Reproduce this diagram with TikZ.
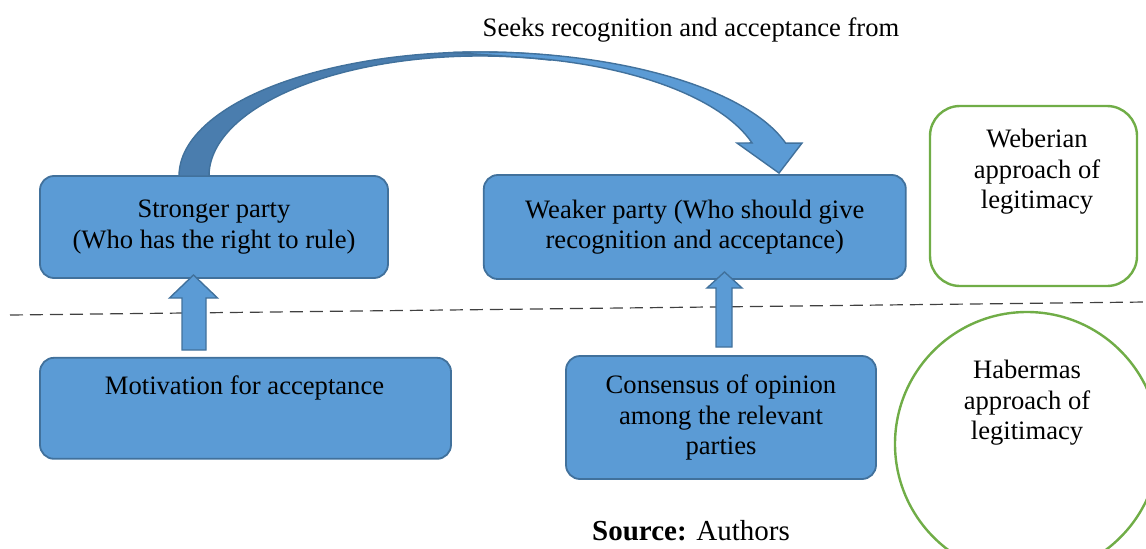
\documentclass[tikz,border=0pt]{standalone}
\usepackage{fontspec}
\setmainfont{Liberation Serif}
\usetikzlibrary{positioning,calc}
\definecolor{boxblue}{HTML}{5B9BD5}
\definecolor{edgeblue}{HTML}{41719C}
\definecolor{bandblue}{HTML}{4A7DAE}
\definecolor{leafgreen}{HTML}{70AD47}
\newcommand{\bodyfont}{\fontsize{13.3}{15.25}\selectfont}
\tikzset{
    block/.style={
        rectangle,
        draw=edgeblue,
        fill=boxblue,
        line width=0.9pt,
        rounded corners=7pt,
        inner sep=0pt,
        align=center,
        font=\bodyfont
    },
    approach/.style={draw=leafgreen, line width=1.2pt, fill=white, inner sep=0pt},
    txt/.style={align=center, font=\bodyfont, inner sep=0pt},
    fatarrow/.style={draw=edgeblue, fill=boxblue, line width=0.7pt, line join=miter},
    backband/.style={draw=edgeblue, fill=bandblue, line width=0.7pt}
}

\begin{document}
\begin{tikzpicture}[x=0.5pt, y=0.5pt]
    \useasboundingbox (0,0) rectangle (1146,548);
    \clip (0,0) rectangle (1146,548);

    % upper row
    \node (strong) [block, minimum width=174pt, minimum height=51pt] at (214,321) {Stronger party\\(Who has the right to rule)};
    \node (weak) [block, right=47pt of strong, minimum width=211pt, minimum height=52pt] {Weaker party (Who should give\\recognition and acceptance)};

    % lower row
    \node (motive) [block, below=39pt of strong.south west, anchor=north west, minimum width=205.5pt, minimum height=50.5pt] {};
    \node (motivetext) [txt] at (244.5,160) {Motivation for acceptance};
    \node (consensus) [block, minimum width=155pt, minimum height=61.5pt] at (721,130.5) {Consensus of opinion\\among the relevant\\parties};

    % approaches
    \node (weber) [approach, rounded corners=15pt, minimum width=103.5pt, minimum height=90pt] at (1033.5,352) {};
    \node (webertext) [txt] at (1037,376) {Weberian\\approach of\\legitimacy};
    \node (habermas) [approach, circle, minimum size=132pt] at (1027,104) {};
    \node (habermastext) [txt] at (1027,145) {Habermas\\approach of\\legitimacy};

    % divider
    \draw [black!75, line width=0.6pt, dash pattern=on 6.5pt off 3.5pt] (10,233) -- (1146,246);

    % block arrows up
    \filldraw [fatarrow] (182,198) -- (182,250) -- (169.5,250) -- (193.5,273) -- (217.5,250) -- (206,250) -- (206,198) -- cycle;
    \filldraw [fatarrow] (716,201) -- (716,260) -- (707,260) -- (724.5,276) -- (742,260) -- (732,260) -- (732,201) -- cycle;

    % curved arrow
    \coordinate (bend) at (480,372);
    \filldraw [backband] ($(bend)+(180:150.5pt and 62pt)$) arc[start angle=180, end angle=75, x radius=150.5pt, y radius=62pt]
        -- ($(bend)+(75:135.5pt and 60pt)$) arc[start angle=75, end angle=180, x radius=135.5pt, y radius=60pt] -- cycle;
    \filldraw [fatarrow] ($(bend)+(95:158.5pt and 62pt)$) arc[start angle=95, end angle=15.4, x radius=158.5pt, y radius=62pt]
        -- ++(16.4,0) -- ++(-23,-30) -- ++(-42,30)
        -- ($(bend)+(16:141.5pt and 60pt)$) arc[start angle=16, end angle=80, x radius=141.5pt, y radius=60pt] -- cycle;

    \node (seeks) [txt] at (691,518) {Seeks recognition and acceptance from};
    \node (source) [txt, font=\fontsize{14.5}{16}\selectfont] at (691,17) {\textbf{Source:} Authors};
\end{tikzpicture}
\end{document}
